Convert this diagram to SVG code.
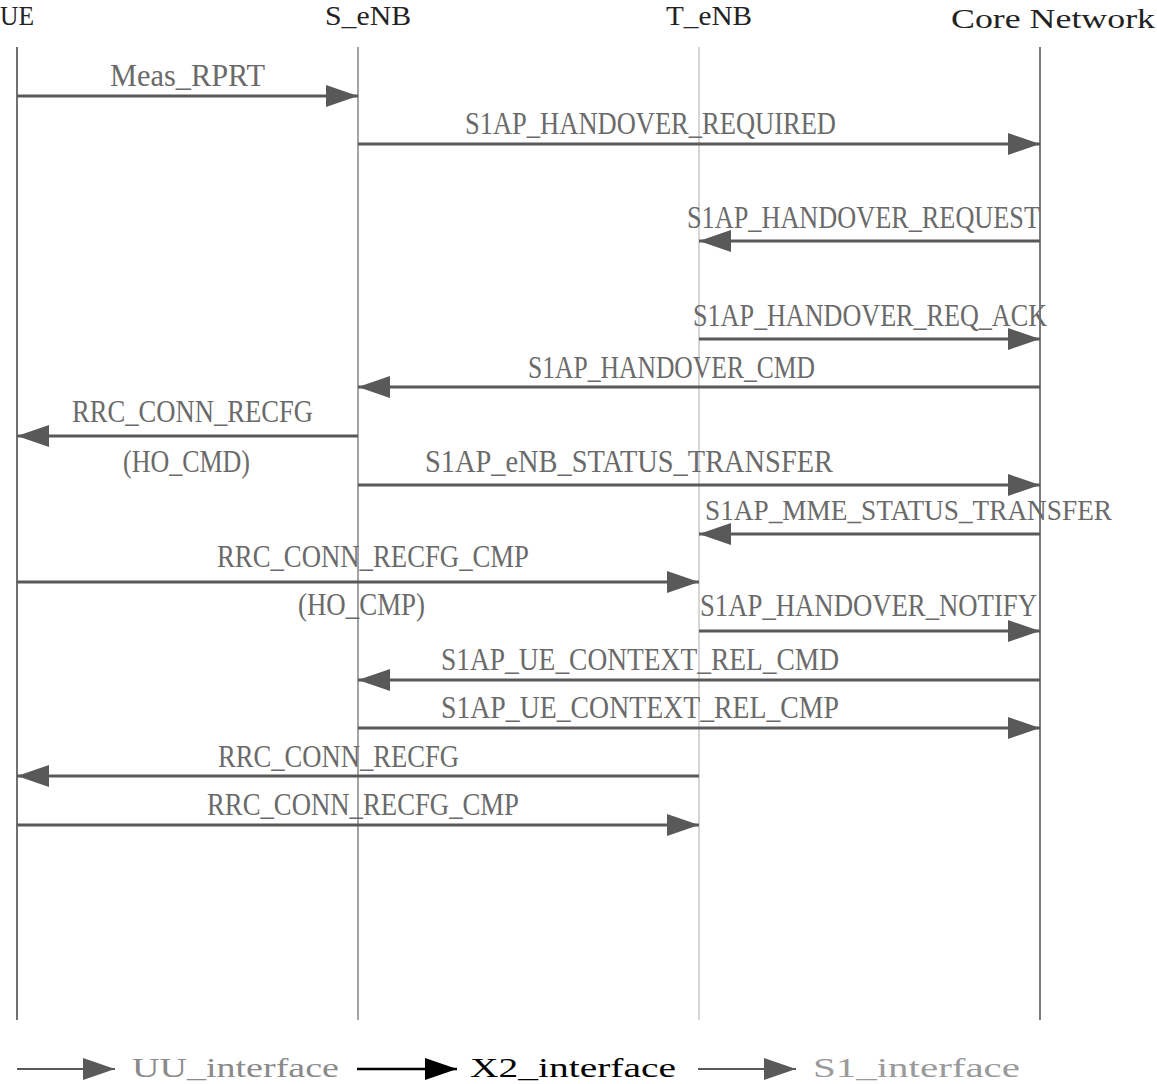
<svg xmlns="http://www.w3.org/2000/svg" width="1157" height="1084" viewBox="0 0 1157 1084">
<style>
.hdr{font-family:"Liberation Serif",serif;font-size:28px;fill:#222}
.lbl{font-family:"Liberation Serif",serif;font-size:31px;fill:#6a6a6a}
.leg{font-family:"Liberation Serif",serif;font-size:28px}
.msg{stroke:#595959;stroke-width:3;fill:none;marker-end:url(#ah)}
.life{stroke-width:1.2}
</style>
<defs>
<marker id="ah" viewBox="0 0 32 22" refX="32" refY="11" markerWidth="32" markerHeight="22" markerUnits="userSpaceOnUse" orient="auto">
<path d="M0,0 L32,11 L0,22 Z" fill="#595959"/>
</marker>
<marker id="ahk" viewBox="0 0 32 22" refX="32" refY="11" markerWidth="32" markerHeight="22" markerUnits="userSpaceOnUse" orient="auto">
<path d="M0,0 L32,11 L0,22 Z" fill="#000"/>
</marker>
</defs>
<rect width="1157" height="1084" fill="#fff"/>
<g id="node-ue"><text class="hdr" x="0" y="25" textLength="34" lengthAdjust="spacingAndGlyphs">UE</text><line class="life" x1="17" y1="47" x2="17" y2="1020" stroke="#111"/></g>
<g id="node-senb"><text class="hdr" x="325" y="25" textLength="86" lengthAdjust="spacingAndGlyphs">S_eNB</text><line class="life" x1="358" y1="47" x2="358" y2="1020" stroke="#666"/></g>
<g id="node-tenb"><text class="hdr" x="666" y="25" textLength="86" lengthAdjust="spacingAndGlyphs">T_eNB</text><line class="life" x1="699" y1="47" x2="699" y2="1020" stroke="#bbb"/></g>
<g id="node-core"><text class="hdr" x="951" y="28" textLength="204" lengthAdjust="spacingAndGlyphs">Core Network</text><line class="life" x1="1040" y1="47" x2="1040" y2="1020" stroke="#222"/></g>
<g id="connectors">
<line class="msg" x1="17" y1="96" x2="358" y2="96"/>
<line class="msg" x1="358" y1="144" x2="1040" y2="144"/>
<line class="msg" x1="1040" y1="241" x2="699" y2="241"/>
<line class="msg" x1="699" y1="339" x2="1040" y2="339"/>
<line class="msg" x1="1040" y1="387" x2="358" y2="387"/>
<line class="msg" x1="358" y1="436" x2="17" y2="436"/>
<line class="msg" x1="358" y1="485" x2="1040" y2="485"/>
<line class="msg" x1="1040" y1="534" x2="699" y2="534"/>
<line class="msg" x1="17" y1="582" x2="699" y2="582"/>
<line class="msg" x1="699" y1="631" x2="1040" y2="631"/>
<line class="msg" x1="1040" y1="680" x2="358" y2="680"/>
<line class="msg" x1="358" y1="728" x2="1040" y2="728"/>
<line class="msg" x1="699" y1="776" x2="17" y2="776"/>
<line class="msg" x1="17" y1="825" x2="699" y2="825"/>
</g>
<g id="labels">
<text class="lbl" x="110" y="86" textLength="155" lengthAdjust="spacingAndGlyphs">Meas_RPRT</text>
<text class="lbl" x="465" y="134" textLength="371" lengthAdjust="spacingAndGlyphs">S1AP_HANDOVER_REQUIRED</text>
<text class="lbl" x="687" y="228" textLength="353" lengthAdjust="spacingAndGlyphs">S1AP_HANDOVER_REQUEST</text>
<text class="lbl" x="693" y="326" textLength="354" lengthAdjust="spacingAndGlyphs">S1AP_HANDOVER_REQ_ACK</text>
<text class="lbl" x="528" y="378" textLength="287" lengthAdjust="spacingAndGlyphs">S1AP_HANDOVER_CMD</text>
<text class="lbl" x="72" y="422" textLength="241" lengthAdjust="spacingAndGlyphs">RRC_CONN_RECFG</text>
<text class="lbl" x="123" y="472" textLength="127" lengthAdjust="spacingAndGlyphs">(HO_CMD)</text>
<text class="lbl" x="425" y="472" textLength="408" lengthAdjust="spacingAndGlyphs">S1AP_eNB_STATUS_TRANSFER</text>
<text class="lbl" x="705" y="520" style="font-size:29px" textLength="407" lengthAdjust="spacingAndGlyphs">S1AP_MME_STATUS_TRANSFER</text>
<text class="lbl" x="217" y="567" textLength="312" lengthAdjust="spacingAndGlyphs">RRC_CONN_RECFG_CMP</text>
<text class="lbl" x="298" y="615" textLength="127" lengthAdjust="spacingAndGlyphs">(HO_CMP)</text>
<text class="lbl" x="700" y="616" textLength="337" lengthAdjust="spacingAndGlyphs">S1AP_HANDOVER_NOTIFY</text>
<text class="lbl" x="441" y="670" textLength="398" lengthAdjust="spacingAndGlyphs">S1AP_UE_CONTEXT_REL_CMD</text>
<text class="lbl" x="441" y="718" textLength="398" lengthAdjust="spacingAndGlyphs">S1AP_UE_CONTEXT_REL_CMP</text>
<text class="lbl" x="218" y="767" textLength="241" lengthAdjust="spacingAndGlyphs">RRC_CONN_RECFG</text>
<text class="lbl" x="207" y="815" textLength="312" lengthAdjust="spacingAndGlyphs">RRC_CONN_RECFG_CMP</text>
</g>
<g id="legend">
<line x1="17" y1="1069" x2="115" y2="1069" stroke="#595959" stroke-width="2" marker-end="url(#ah)"/>
<text class="leg" x="132" y="1077" style="fill:#8a8a8a" textLength="207" lengthAdjust="spacingAndGlyphs">UU_interface</text>
<line x1="357" y1="1069" x2="457" y2="1069" stroke="#000" stroke-width="2.5" marker-end="url(#ahk)"/>
<text class="leg" x="470" y="1077" style="fill:#000" textLength="206" lengthAdjust="spacingAndGlyphs">X2_interface</text>
<line x1="698" y1="1069" x2="796" y2="1069" stroke="#595959" stroke-width="2" marker-end="url(#ah)"/>
<text class="leg" x="813" y="1077" style="fill:#9a9a9a" textLength="207" lengthAdjust="spacingAndGlyphs">S1_interface</text>
</g>
</svg>
